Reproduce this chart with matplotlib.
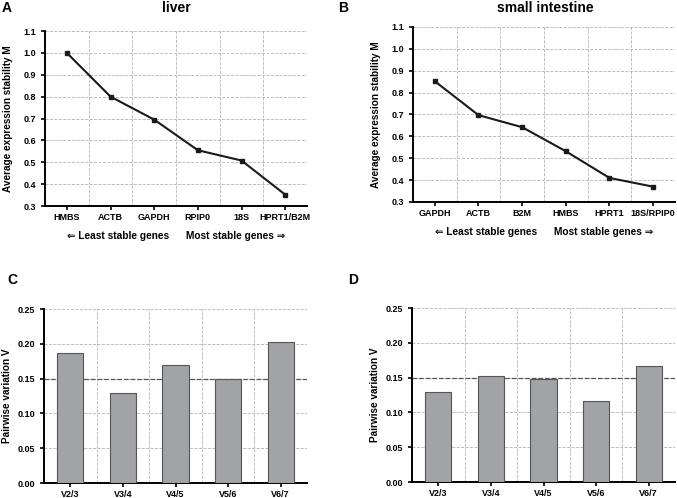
import matplotlib
matplotlib.use("Agg")
from matplotlib import pyplot as plt
import numpy as np

plt.rcParams['font.family'] = ['Liberation Sans', 'DejaVu Sans']
plt.rcParams['font.weight'] = 'bold'

# panel A / B: geNorm stability values
liver_genes = ["HMBS", "ACTB", "GAPDH", "RPIP0", "18S", "HPRT1/B2M"]
liver_m = [1.0, 0.80, 0.695, 0.555, 0.508, 0.352]
si_genes = ["GAPDH", "ACTB", "B2M", "HMBS", "HPRT1", "18S/RPIP0"]
si_m = [0.852, 0.697, 0.642, 0.532, 0.41, 0.37]

# panel C / D: pairwise variation
pairs = ["V2/3", "V3/4", "V4/5", "V5/6", "V6/7"]
liver_v = [0.187, 0.130, 0.169, 0.150, 0.203]
si_v = [0.130, 0.153, 0.148, 0.116, 0.167]
cutoff = 0.15

GRID = dict(color='#b4b4b4', linestyle='--', linewidth=0.6)


def style_axes(ax, n):
    ax.spines['top'].set_visible(False)
    ax.spines['right'].set_visible(False)
    ax.spines['left'].set_linewidth(1.4)
    ax.spines['bottom'].set_linewidth(1.4)
    ax.set_xlim(-0.5, n - 0.5)
    ax.set_xticks(np.arange(-0.5, n, 1.0), minor=True)
    ax.tick_params(axis='x', which='minor', length=0)
    ax.tick_params(axis='both', which='major', labelsize=6.5, width=1.2, length=3)
    ax.tick_params(axis='x', which='major', pad=2)
    ax.grid(True, axis='x', which='minor', **GRID)
    ax.grid(True, axis='y', which='major', **GRID)
    ax.set_axisbelow(True)
    for lbl in ax.get_xticklabels() + ax.get_yticklabels():
        lbl.set_fontweight('bold')


def stability_plot(ax, genes, vals):
    x = np.arange(len(genes))
    ax.plot(x, vals, color='#1a1a1a', linewidth=1.5, marker='s', markersize=3.2, clip_on=False, zorder=3)
    ax.set_ylim(0.3, 1.1)
    ax.set_yticks(np.arange(0.3, 1.11, 0.1))
    ax.set_yticklabels([f"{v:.1f}" for v in np.arange(0.3, 1.11, 0.1)])
    ax.set_xticks(x)
    ax.set_xticklabels(genes)
    style_axes(ax, len(genes))
    ax.set_ylabel("Average expression stability M", fontsize=7.2, fontweight='bold')
    ax.yaxis.set_label_coords(-0.122, 0.5)
    # stability direction notes
    ax.text(0.28, -0.171, "\u21d0 Least stable genes", transform=ax.transAxes,
            ha='center', va='center', fontsize=7.3, fontweight='bold')
    ax.text(0.727, -0.171, "Most stable genes \u21d2", transform=ax.transAxes,
            ha='center', va='center', fontsize=7.3, fontweight='bold')


def variation_plot(ax, vals):
    x = np.arange(len(pairs))
    ax.bar(x, vals, width=0.5, color='#a2a3a7', edgecolor='#555555', linewidth=0.8, zorder=3)
    ax.axhline(cutoff, color='#555555', linestyle='--', linewidth=0.9, zorder=2)
    ax.set_ylim(0, 0.25)
    ax.set_yticks(np.arange(0, 0.251, 0.05))
    ax.set_yticklabels([f"{v:.2f}" for v in np.arange(0, 0.251, 0.05)])
    ax.set_xticks(x)
    ax.set_xticklabels(pairs)
    style_axes(ax, len(pairs))
    ax.set_ylabel("Pairwise variation V", fontsize=7.2, fontweight='bold')
    ax.yaxis.set_label_coords(-0.122, 0.5)


fig = plt.figure(figsize=(6.77, 4.98), dpi=100)

axA = fig.add_axes([0.0665, 0.5863, 0.387, 0.3514])
axB = fig.add_axes([0.610, 0.5944, 0.387, 0.3514])
axC = fig.add_axes([0.065, 0.0301, 0.3885, 0.3494])
axD = fig.add_axes([0.6086, 0.0321, 0.3885, 0.3494])

stability_plot(axA, liver_genes, liver_m)
stability_plot(axB, si_genes, si_m)
variation_plot(axC, liver_v)
variation_plot(axD, si_v)

fig.text(176 / 677, 1 - 8 / 498, "liver", fontsize=10, fontweight='bold', ha='center', va='center')
fig.text(545 / 677, 1 - 8 / 498, "small intestine", fontsize=10, fontweight='bold', ha='center', va='center')

for lbl, x, y in [("A", 0.002, 0.998), ("B", 0.500, 0.998), ("C", 0.011, 0.452), ("D", 0.514, 0.452)]:
    fig.text(x, y, lbl, fontsize=10, fontweight='bold', ha='left', va='top')

fig.savefig("out.png", dpi=100)
